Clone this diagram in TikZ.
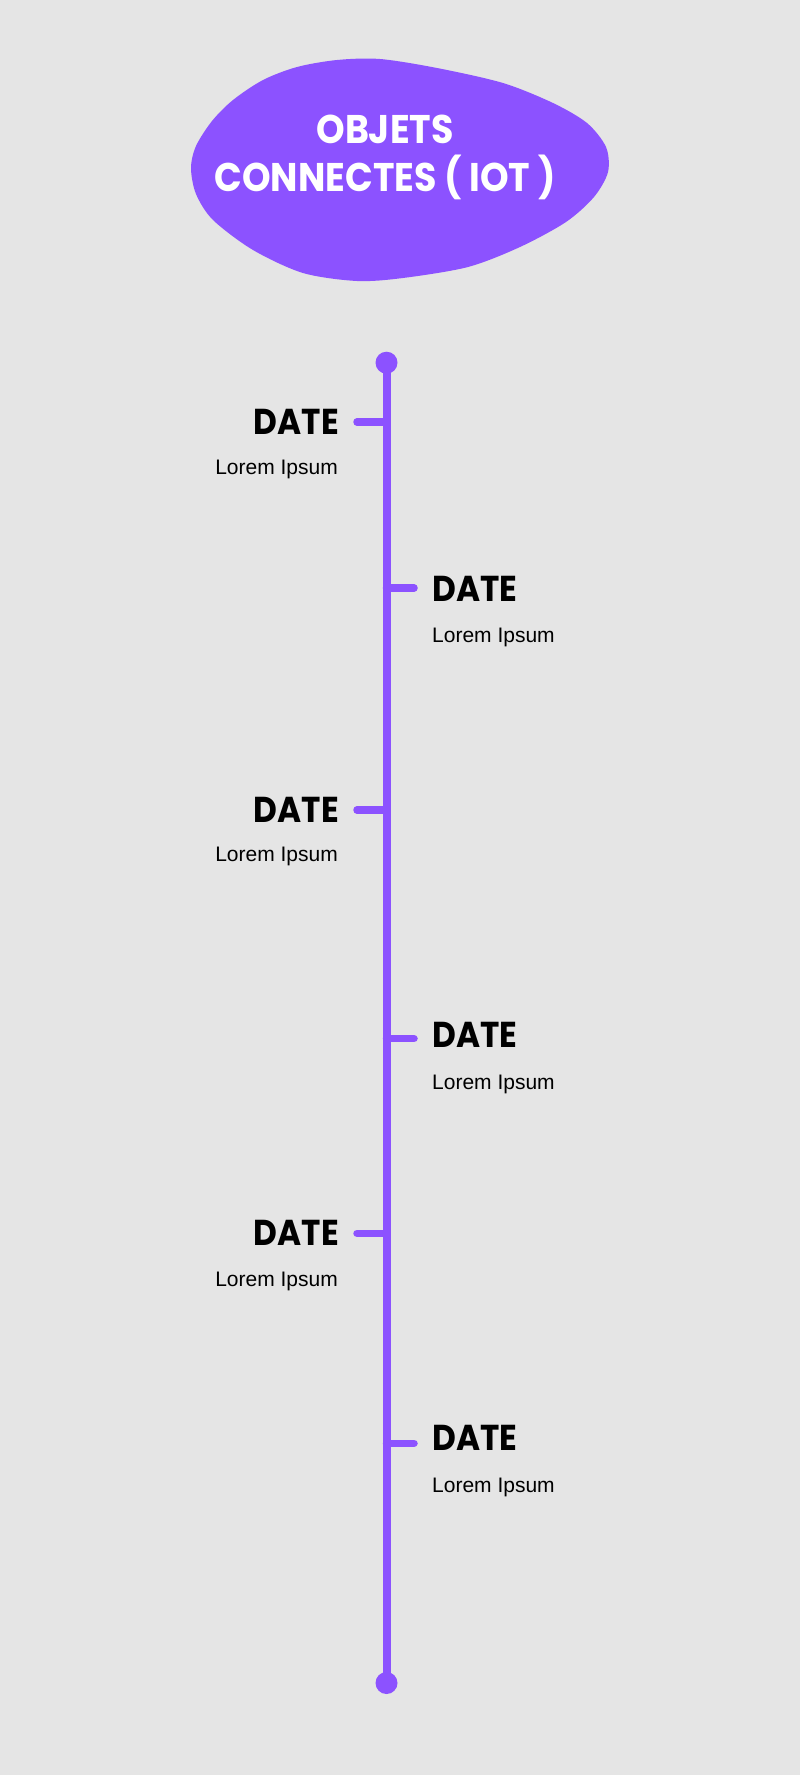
\documentclass[tikz,border=0pt]{standalone}
\usepackage{fontspec}
\usepackage{graphicx}
\setmainfont{Liberation Sans}
\newfontfamily\popfont{Poppins}
\definecolor{bgc}{HTML}{E5E5E5}
\definecolor{purp}{HTML}{8C52FF}
\newcommand{\narrowtxt}[1]{\scalebox{0.91}[1]{#1}}
\begin{document}
\begin{tikzpicture}[x=1pt,y=-1pt,
  datetxt/.style={inner sep=0pt,font=\popfont\bfseries\fontsize{36}{40}\selectfont},
  loremtxt/.style={inner sep=0pt,font=\fontsize{21}{24}\selectfont},
  titletxt/.style={inner sep=0pt,text=white,font=\popfont\bfseries\fontsize{40}{44}\selectfont},
  dotnode/.style={circle,fill=purp,inner sep=0pt,minimum size=22pt},
  tickline/.style={draw=purp,line width=7.5pt,line cap=round},
  mainline/.style={draw=purp,line width=8pt}]
\useasboundingbox (0,0) rectangle (800,1775);
\fill[bgc] (0,0) rectangle (800,1775);
% blob
\fill[purp] plot[smooth cycle,tension=0.5] coordinates {
 (191,168) (196,146) (212,121) (233,100) (263,80) (297,67) (337,60) (380,59)
 (437,68) (503,83) (553,103) (587,123) (606,147) (608,172) (594,197) (566,222)
 (520,247) (468,267) (403,278) (357,281) (303,273) (253,250) (213,220) (196,194)};
\node[titletxt,anchor=base] (t1) at (385,143.3) {\narrowtxt{OBJETS}};
\node[titletxt,anchor=base] (t2) at (385,191.7) {\narrowtxt{CONNECTES ( IOT )}};
% timeline
\node[dotnode] (top) at (386.5,362.7) {};
\node[dotnode] (bot) at (386.5,1683) {};
\draw[mainline] (top.center) -- (bot.center);
% ticks
\coordinate (c1) at (386.5,422);
\coordinate (c2) at (386.5,588);
\coordinate (c3) at (386.5,810);
\coordinate (c4) at (386.5,1038.7);
\coordinate (c5) at (386.5,1233.3);
\coordinate (c6) at (386.5,1443.3);
\coordinate (e1) at (357,422);
\coordinate (e2) at (414,588);
\coordinate (e3) at (357,810);
\coordinate (e4) at (414,1038.7);
\coordinate (e5) at (357,1233.3);
\coordinate (e6) at (414,1443.3);
\foreach \n in {1,...,6}{\draw[tickline] (c\n) -- (e\n);}
% labels
\node[datetxt,anchor=base east] (d1) at (339,434) {\narrowtxt{DATE}};
\node[loremtxt,anchor=base east] (l1) at (338,474) {Lorem Ipsum};
\node[datetxt,anchor=base west] (d2) at (432,601) {\narrowtxt{DATE}};
\node[loremtxt,anchor=base west] (l2) at (432,642) {Lorem Ipsum};
\node[datetxt,anchor=base east] (d3) at (339,822.3) {\narrowtxt{DATE}};
\node[loremtxt,anchor=base east] (l3) at (338,861.7) {Lorem Ipsum};
\node[datetxt,anchor=base west] (d4) at (432,1047.3) {\narrowtxt{DATE}};
\node[loremtxt,anchor=base west] (l4) at (432,1089) {Lorem Ipsum};
\node[datetxt,anchor=base east] (d5) at (339,1245.7) {\narrowtxt{DATE}};
\node[loremtxt,anchor=base east] (l5) at (338,1286.7) {Lorem Ipsum};
\node[datetxt,anchor=base west] (d6) at (432,1450) {\narrowtxt{DATE}};
\node[loremtxt,anchor=base west] (l6) at (432,1492.7) {Lorem Ipsum};
\end{tikzpicture}
\end{document}
